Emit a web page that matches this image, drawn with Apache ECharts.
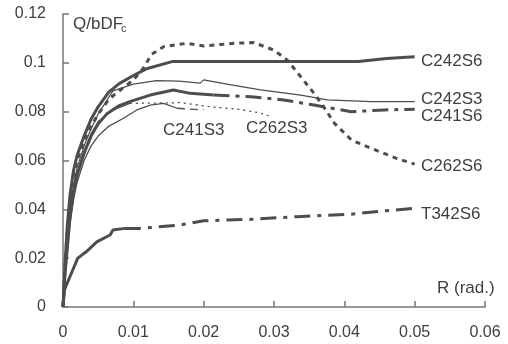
<!DOCTYPE html>
<html><head><meta charset="utf-8">
<script src="https://cdn.jsdelivr.net/npm/echarts@6/dist/echarts.min.js"></script>
<style>html,body{margin:0;padding:0;background:#fff}#c{width:508px;height:344px}</style>
</head><body><div id="c"></div>
<script>
// x: drift angle R (rad.), y: Q/bDFc
const xTicks = [0, 0.01, 0.02, 0.03, 0.04, 0.05, 0.06];
const yTicks = [0, 0.02, 0.04, 0.06, 0.08, 0.1, 0.12];

const C242S6 = [[0,0],[0.0003,0.018],[0.0006,0.033],[0.001,0.046],[0.0015,0.056],[0.002,0.062],[0.003,0.07],[0.004,0.077],[0.005,0.082],[0.0065,0.088],[0.008,0.0915],[0.01,0.0948],[0.012,0.0977],[0.0155,0.1005],[0.02,0.1005],[0.03,0.1005],[0.042,0.1005],[0.046,0.1018],[0.05,0.1025]];
const C262S6 = [[0,0],[0.0003,0.017],[0.0006,0.031],[0.001,0.044],[0.0015,0.054],[0.002,0.06],[0.003,0.068],[0.004,0.074],[0.005,0.079],[0.0065,0.085],[0.0074,0.0872],[0.01,0.093],[0.0114,0.0977],[0.0126,0.1035],[0.0143,0.1066],[0.0176,0.108],[0.02,0.1069],[0.0243,0.108],[0.0271,0.1083],[0.030,0.1052],[0.0319,0.1011],[0.0338,0.0943],[0.0355,0.0882],[0.0369,0.0827],[0.0386,0.0752],[0.041,0.0684],[0.0438,0.065],[0.0474,0.0609],[0.05,0.0585]];
const C242S3 = [[0,0],[0.0003,0.016],[0.0007,0.03],[0.001,0.04],[0.0015,0.05],[0.002,0.057],[0.003,0.066],[0.004,0.073],[0.005,0.079],[0.0071,0.0885],[0.01,0.0913],[0.0133,0.0927],[0.0165,0.0925],[0.0195,0.0917],[0.02,0.093],[0.0235,0.0912],[0.0281,0.0889],[0.0338,0.0868],[0.0376,0.0848],[0.0438,0.0841],[0.05,0.0841]];
const C241S6a = [[0,0],[0.0003,0.014],[0.0007,0.027],[0.001,0.037],[0.0015,0.047],[0.002,0.054],[0.003,0.063],[0.004,0.07],[0.005,0.075],[0.0062,0.079],[0.008,0.0825],[0.0095,0.0841],[0.0124,0.0868],[0.0157,0.0889],[0.0181,0.0875],[0.0214,0.0868]];
const C241S6b = [[0.0214,0.0868],[0.0267,0.0861],[0.0314,0.0848],[0.0357,0.0827],[0.041,0.08],[0.0457,0.0807],[0.05,0.081]];
const C241S3a = [[0,0],[0.0003,0.013],[0.0007,0.025],[0.001,0.034],[0.0015,0.044],[0.002,0.051],[0.003,0.06],[0.004,0.066],[0.005,0.07],[0.0065,0.074],[0.0086,0.0773],[0.0105,0.0807],[0.0124,0.0827],[0.0143,0.0834],[0.0162,0.0814]];
const C241S3b = [[0.0162,0.0814],[0.02,0.0807]];
const C262S3a = [[0,0],[0.0003,0.015],[0.0007,0.028],[0.001,0.038],[0.0015,0.048],[0.002,0.055],[0.003,0.064],[0.004,0.071],[0.005,0.076],[0.007,0.0805],[0.0095,0.0834]];
const C262S3b = [[0.0095,0.0834],[0.0125,0.0835],[0.0167,0.0837],[0.021,0.082],[0.025,0.081],[0.028,0.0795],[0.0295,0.078]];
const T342S6a = [[0,0],[0.0002,0.007],[0.001,0.0125],[0.0021,0.02],[0.0033,0.0226],[0.0048,0.0267],[0.0067,0.0295],[0.0071,0.0315],[0.0088,0.0322]];
const T342S6b = [[0.0088,0.0322],[0.011,0.0322],[0.0167,0.0336],[0.020,0.0353],[0.0267,0.0359],[0.0333,0.037],[0.041,0.038],[0.045,0.0392],[0.05,0.0404]];

const LC = '#4d4d4d', TC = '#404040', FONT = 'Liberation Sans';
function line(name, data, width, type) {
  return { name, type: 'line', data, showSymbol: false, silent: true,
    lineStyle: { color: LC, width, type: type || 'solid', cap: 'butt', join: 'round' } };
}
const chart = echarts.init(document.getElementById('c'), null, { renderer: 'canvas' });
chart.setOption({
  animation: false,
  backgroundColor: '#fff',
  grid: { left: 63, right: 23, top: 14, bottom: 37, containLabel: false },
  xAxis: { type: 'value', min: xTicks[0], max: xTicks[xTicks.length-1], interval: 0.01,
    axisLine: { lineStyle: { color: '#777', width: 1.5 } },
    axisTick: { inside: true, length: 6, lineStyle: { color: '#777', width: 1.5 } },
    splitLine: { show: false },
    axisLabel: { margin: 18, color: TC, fontFamily: FONT, fontSize: 16,
      formatter: v => (+v.toFixed(2)).toString() } },
  yAxis: { type: 'value', min: yTicks[0], max: yTicks[yTicks.length-1], interval: 0.02,
    axisLine: { show: true, lineStyle: { color: '#777', width: 1.5 } },
    axisTick: { show: true, inside: true, length: 6, lineStyle: { color: '#777', width: 1.5 } },
    splitLine: { show: false },
    axisLabel: { margin: 17, color: TC, fontFamily: FONT, fontSize: 16,
      formatter: v => (+v.toFixed(2)).toString() } },
  series: [
    line('C242S6', C242S6, 3),
    line('C262S6', C262S6, 3, [5, 5]),
    line('C242S3', C242S3, 1.2),
    line('C241S6', C241S6a, 3),
    line('C241S6', C241S6b, 3, [16, 6, 4, 6]),
    line('C241S3', C241S3a, 1.3),
    line('C241S3', C241S3b, 1.3, [8, 5]),
    line('C262S3', C262S3a, 1.2),
    line('C262S3', C262S3b, 1.3, [2, 4]),
    line('T342S6', T342S6a, 3),
    line('T342S6', T342S6b, 3, [16, 7, 4, 7])
  ],
  graphic: [
    { type: 'text', x: 73, y: 24, style: { text: 'Q/bDF', font: '17px ' + FONT, fill: TC, verticalAlign: 'middle' } },
    { type: 'text', x: 121, y: 29, style: { text: 'c', font: '11px ' + FONT, fill: TC, verticalAlign: 'middle' } },
    { type: 'text', x: 437, y: 288, style: { text: 'R (rad.)', font: '17px ' + FONT, fill: TC, verticalAlign: 'middle' } },
    { type: 'text', x: 421, y: 61, style: { text: 'C242S6', font: '17px ' + FONT, fill: TC, verticalAlign: 'middle' } },
    { type: 'text', x: 421, y: 99, style: { text: 'C242S3', font: '17px ' + FONT, fill: TC, verticalAlign: 'middle' } },
    { type: 'text', x: 421, y: 116, style: { text: 'C241S6', font: '17px ' + FONT, fill: TC, verticalAlign: 'middle' } },
    { type: 'text', x: 421, y: 166, style: { text: 'C262S6', font: '17px ' + FONT, fill: TC, verticalAlign: 'middle' } },
    { type: 'text', x: 421, y: 214, style: { text: 'T342S6', font: '17px ' + FONT, fill: TC, verticalAlign: 'middle' } },
    { type: 'text', x: 163, y: 130, style: { text: 'C241S3', font: '17px ' + FONT, fill: TC, verticalAlign: 'middle' } },
    { type: 'text', x: 246, y: 128, style: { text: 'C262S3', font: '17px ' + FONT, fill: TC, verticalAlign: 'middle' } }
  ]
});
</script></body></html>
